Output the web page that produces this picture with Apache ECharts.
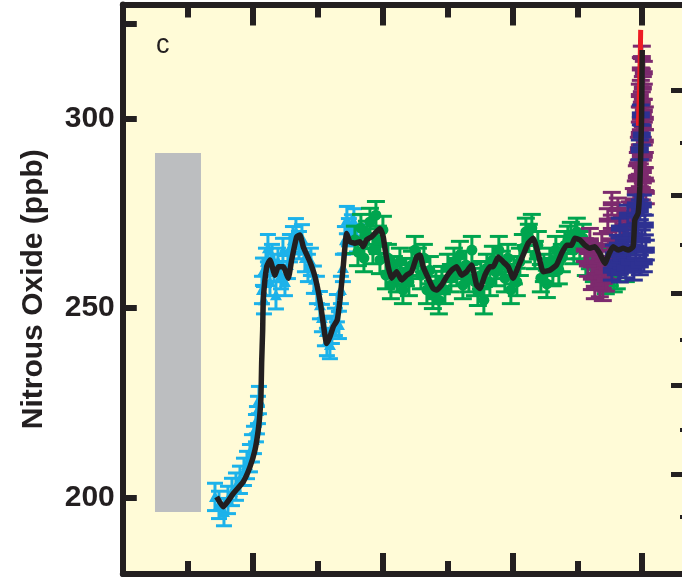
<!DOCTYPE html>
<html>
<head>
<meta charset="utf-8">
<script src="https://cdn.jsdelivr.net/npm/echarts@6/dist/echarts.min.js"></script>
<style>
html,body{margin:0;padding:0;background:#ffffff;overflow:hidden;width:682px;height:579px;}
#chart{width:700px;height:579px;}
</style>
</head>
<body>
<div id="chart"></div>
<script>
// ---- data: [age (years before present), N2O (ppb)] ----
var smoothLine = [
 [16386,200.3],[16132,197.7],[15747,201.2],[15362,204.3],[15104,208.2],[14912,212.6],[14785,217.9],
 [14719,222.4],[14681,226.6],[14654,235.6],[14615,244.2],[14592,252.1],[14461,260.9],[14334,262.7],
 [14142,258.7],[14015,260.9],[13822,260.9],[13630,257.9],[13499,262.7],[13306,268.8],[13180,269.3],
 [13053,266.2],[12795,262.2],[12602,258.3],[12410,252.1],[12283,246.0],[12152,240.7],[12025,242.5],
 [11898,245.1],[11744,246.9],[11640,252.1],[11513,260.9],[11382,269.7],[11255,267.5],[11063,267.1],
 [10870,267.5],[10743,266.2],[10612,268.0],[10420,268.8],[10293,269.7],[10100,271.0],[9973,268.8],
 [9908,265.8],[9781,260.9],[9650,257.9],[9458,259.6],[9265,257.4],[9073,258.7],[8880,259.6],
 [8688,263.5],[8561,264.0],[8434,260.9],[8241,257.9],[8049,255.2],[7918,254.8],[7725,256.1],
 [7533,258.3],[7341,260.0],[7148,260.9],[6956,258.7],[6763,259.6],[6571,261.4],[6378,256.1],
 [6251,255.2],[6059,258.7],[5867,260.9],[5740,260.9],[5547,263.5],[5355,262.2],[5162,260.9],
 [4970,257.9],[4777,260.9],[4585,264.0],[4392,267.1],[4200,268.4],[4007,264.4],[3815,259.6],
 [3558,260.0],[3300,261.4],[3107,264.4],[2915,266.6],[2722,266.6],[2595,268.4],[2403,268.0],
 [2210,266.6],[2018,265.8],[1826,266.2],[1634,264.4],[1441,261.8],[1275,264.4],[1121,266.2],
 [929,265.3],[736,265.8],[544,265.3],[351,266.2],[286,273.2],[159,275.0],[93,282.0],[28,299.6],[0,318.0]
];

var cyanTriangles = [
 [16451,200.3],[16297,198.2],[16105,196.3],[15951,199.5],[15797,201.6],[15643,203.0],[15489,204.8],
 [15335,206.9],[15219,208.7],[15104,210.5],[15027,213.1],[14950,215.3],[14873,218.4],[14835,220.5],
 [14796,223.2],[14758,225.8],
 [14642,254.8],[14604,259.6],[14565,252.1],[14488,262.2],[14412,265.8],[14334,256.9],[14257,263.2],
 [14180,260.6],[14103,253.4],[14026,262.2],[13911,258.7],[13834,264.8],[13757,256.9],[13642,261.4],
 [13565,265.8],[13449,267.9],[13334,270.0],[13218,266.6],[13103,268.4],[12988,263.2],[12872,260.6],
 [12757,262.2],[12642,257.5],[12526,254.8],[12410,250.8],[12333,247.4],[12218,243.7],[12141,241.1],
 [12025,240.3],[11949,244.3],[11833,246.4],[11756,250.0],[11679,245.6],[11602,254.8],[11525,260.6],
 [11448,267.9],[11372,273.2],[11295,270.0],[11179,271.0],[11102,272.6],[10987,268.4]
];

var greenCircles = [
 [11063,268.0],[10947,264.8],[10832,271.1],[10716,263.2],[10601,269.3],[10485,272.7],[10370,265.3],
 [10254,274.5],[10177,268.0],[10100,262.7],[9985,270.6],[9869,258.7],[9792,263.2],[9677,256.1],
 [9561,260.0],[9446,257.9],[9331,262.2],[9215,254.8],[9100,259.5],[8984,256.9],[8869,261.4],
 [8753,265.3],[8638,262.2],[8522,258.7],[8407,263.2],[8291,254.8],[8176,260.0],[8061,253.5],
 [7945,256.1],[7830,252.1],[7714,257.4],[7599,254.8],[7483,260.6],[7368,257.9],[7252,262.2],
 [7137,259.5],[7021,264.0],[6906,256.1],[6790,261.4],[6675,257.9],[6560,265.3],[6444,256.9],
 [6329,254.3],[6213,258.7],[6098,252.1],[5982,260.6],[5867,256.9],[5751,262.7],[5636,259.5],
 [5521,265.3],[5405,261.4],[5290,257.9],[5174,263.2],[5059,254.8],[4943,260.0],[4828,256.9],
 [4712,262.2],[4597,265.8],[4481,270.1],[4366,268.5],[4251,271.1],[4135,264.0],[4020,266.6],
 [3904,257.9],[3789,260.6],[3673,256.4],[3558,262.2],[3442,259.5],[3327,265.3],[3211,260.0],
 [3096,263.2],[2980,266.6],[2865,268.0],[2750,269.0],[2634,265.3],[2519,270.1],[2403,266.6],
 [2288,268.5],[2172,262.2],[2018,264.0],[1864,260.6],[1711,258.7],[1557,262.2],[1403,257.4],
 [1249,259.5],[1095,257.9],[980,258.7],[632,260.6]
];

var purpleBars = [
 [2210,265.3],[2094,261.4],[2017,268.0],[1940,257.9],[1864,264.0],[1826,255.5],[1787,258.1],[1711,262.2],
 [1633,256.0],[1633,260.0],[1557,266.6],[1518,255.0],[1479,259.5],[1403,257.5],[1325,263.2],[1325,273.2],
 [1249,260.6],[1171,268.0],[1171,277.5],[1095,264.8],[1017,270.6],[940,276.0],[863,265.8],[786,271.0],
 [709,268.5],[632,272.0],[555,271.9],[478,275.0],[401,274.5],[324,278.5],
 [247,280.5],[208,284.5],[170,288.0],[131,292.0],[93,296.0],[54,300.0],[16,304.0],[-23,308.0],
 [-61,312.0],[16,316.0],[54,313.0],[-23,298.0],[-61,290.0],[-100,284.0],[-100,300.0],[93,285.0],
 [131,281.0],[-138,280.5],[54,290.0],[-23,286.0],[16,281.5],[-61,302.0],[-100,294.0],[93,306.0]
];

var navyBars = [
 [1171,260.0],[1095,264.0],[1017,261.4],[940,266.6],[863,259.5],[786,263.2],[709,268.0],[632,260.6],
 [555,265.3],[478,262.2],[401,269.3],[324,260.0],[247,265.8],[170,271.9],[93,261.4],[93,275.9],
 [16,268.0],[-23,277.2],[-61,262.2],[-100,271.9],[-138,265.3],[863,271.1],[555,274.5],[247,277.2],
 [93,291.7],[54,300.9],[16,295.6]
];

var redModern = [[150,298.0],[120,304.0],[95,311.0],[75,317.0],[60,323.3]];

// grey bar: range of values (age span, ppb span)
var greyAge = [18761, 16990];
var greyPpb = [196.3, 290.9];

var yLabelValues = [200, 250, 300];
var yTickValues = [200, 250, 300, 325];
var xMajorTicks = [15000, 10000, 5000, 0];
var xMinorTicks = [17500, 12500, 7500, 2500];
var rightMajorTicks = [307.45, 279.8, 254.0, 229.8, 206.3];
var rightMinorTicks = [293.5, 266.6, 241.6, 217.9, 195.0];

var INK = '#231F20';
var AXMIN = -1800, AXMAX = 20000;

function errorBars(color, err, capHalf, marker, msize, lw) {
  return function (params, api) {
    var x = api.value(0), y = api.value(1);
    var c = api.coord([x, y]);
    var t = api.coord([x, y + err]);
    var b = api.coord([x, y - err]);
    var st = {stroke: color, lineWidth: lw, fill: null};
    var kids = [
      {type: 'line', shape: {x1: c[0], y1: t[1], x2: c[0], y2: b[1]}, style: st},
      {type: 'line', shape: {x1: c[0] - capHalf, y1: t[1], x2: c[0] + capHalf, y2: t[1]}, style: st},
      {type: 'line', shape: {x1: c[0] - capHalf, y1: b[1], x2: c[0] + capHalf, y2: b[1]}, style: st}
    ];
    var h = msize / 2;
    if (marker === 'triangle') {
      kids.push({type: 'polygon', shape: {points: [[c[0], c[1] - h - 1], [c[0] + h + 1, c[1] + h], [c[0] - h - 1, c[1] + h]]}, style: {fill: color}});
    } else if (marker === 'circle') {
      kids.push({type: 'circle', shape: {cx: c[0], cy: c[1], r: h}, style: {fill: color}});
    } else if (marker === 'bar') {
      kids.push({type: 'rect', shape: {x: c[0] - capHalf, y: c[1] - h, width: capHalf * 2, height: msize}, style: {fill: color}});
    }
    return {type: 'group', children: kids};
  };
}

function xAx(pos, ticks, len, showLine) {
  return {
    type: 'value', min: AXMIN, max: AXMAX, inverse: true, position: pos, gridIndex: 0,
    axisLine: {show: showLine, onZero: false, lineStyle: {color: INK, width: 6}},
    axisTick: {show: true, inside: true, length: len, customValues: ticks, lineStyle: {color: INK, width: 6}},
    axisLabel: {show: false}, splitLine: {show: false}
  };
}

var chart = echarts.init(document.getElementById('chart'), null, {renderer: 'canvas'});
chart.setOption({
  animation: false,
  backgroundColor: '#ffffff',
  grid: {left: 122.8, right: 11, top: 4.4, bottom: 5, show: true, backgroundColor: '#FFFBD7', borderWidth: 0, outerBoundsMode: 'none'},
  xAxis: [
    xAx('bottom', xMajorTicks, 21, true),
    xAx('top', xMajorTicks, 21, true),
    xAx('bottom', xMinorTicks, 13, false),
    xAx('top', xMinorTicks, 13, false)
  ],
  yAxis: [
    {
      type: 'value', min: 180, max: 330, position: 'left',
      name: 'Nitrous Oxide (ppb)', nameLocation: 'middle', nameRotate: 90, nameGap: 74,
      nameTextStyle: {fontFamily: 'Liberation Sans, Arial, sans-serif', fontWeight: 'bold', fontSize: 30, color: INK},
      axisLine: {show: true, onZero: false, lineStyle: {color: INK, width: 6}},
      axisTick: {show: true, inside: true, length: 14, customValues: yTickValues, lineStyle: {color: INK, width: 6}},
      axisLabel: {show: true, customValues: yLabelValues, margin: 8, fontFamily: 'Liberation Sans, Arial, sans-serif', fontWeight: 'bold', fontSize: 30, color: INK},
      splitLine: {show: false}
    },
    {
      type: 'value', min: 180, max: 330, position: 'right',
      axisLine: {show: true, onZero: false, lineStyle: {color: INK, width: 6}},
      axisTick: {show: true, inside: true, length: 18, customValues: rightMajorTicks, lineStyle: {color: INK, width: 5}},
      axisLabel: {show: false}, splitLine: {show: false}
    },
    {
      type: 'value', min: 180, max: 330, position: 'right',
      axisLine: {show: false, onZero: false},
      axisTick: {show: true, inside: true, length: 9, customValues: rightMinorTicks, lineStyle: {color: INK, width: 4}},
      axisLabel: {show: false}, splitLine: {show: false}
    }
  ],
  graphic: [
    {type: 'text', left: 156, top: 32, style: {text: 'c', fontFamily: 'Liberation Sans, Arial, sans-serif', fontSize: 27, fill: INK}}
  ],
  series: [
    {
      type: 'custom', name: 'range', xAxisIndex: 0, yAxisIndex: 0, z: 1,
      data: [[greyAge[0], greyPpb[0], greyAge[1], greyPpb[1]]],
      renderItem: function (params, api) {
        var p0 = api.coord([api.value(0), api.value(3)]);
        var p1 = api.coord([api.value(2), api.value(1)]);
        return {type: 'rect', shape: {x: p0[0], y: p0[1], width: p1[0] - p0[0], height: p1[1] - p0[1]}, style: {fill: '#BCBEC0'}};
      }
    },
    {type: 'custom', name: 'cyan', z: 2, data: cyanTriangles, renderItem: errorBars('#1CB2EA', 3.6, 8, 'triangle', 10, 3)},
    {type: 'custom', name: 'green', z: 3, data: greenCircles, renderItem: errorBars('#00A54F', 3.6, 9, 'circle', 11, 3)},
    {type: 'custom', name: 'purple', z: 4, data: purpleBars, renderItem: errorBars('#7D2A6E', 3.0, 9, 'bar', 5, 3)},
    {type: 'custom', name: 'navy', z: 5, data: navyBars, renderItem: errorBars('#2E3192', 2.6, 9, 'bar', 7, 3)},
    {type: 'line', name: 'modern', z: 6, data: redModern, showSymbol: false, lineStyle: {color: '#ED1C24', width: 5}},
    {type: 'line', name: 'smoothed', z: 7, data: smoothLine, showSymbol: false, smooth: 0.15, lineStyle: {color: INK, width: 5.5}}
  ]
});
</script>
</body>
</html>
